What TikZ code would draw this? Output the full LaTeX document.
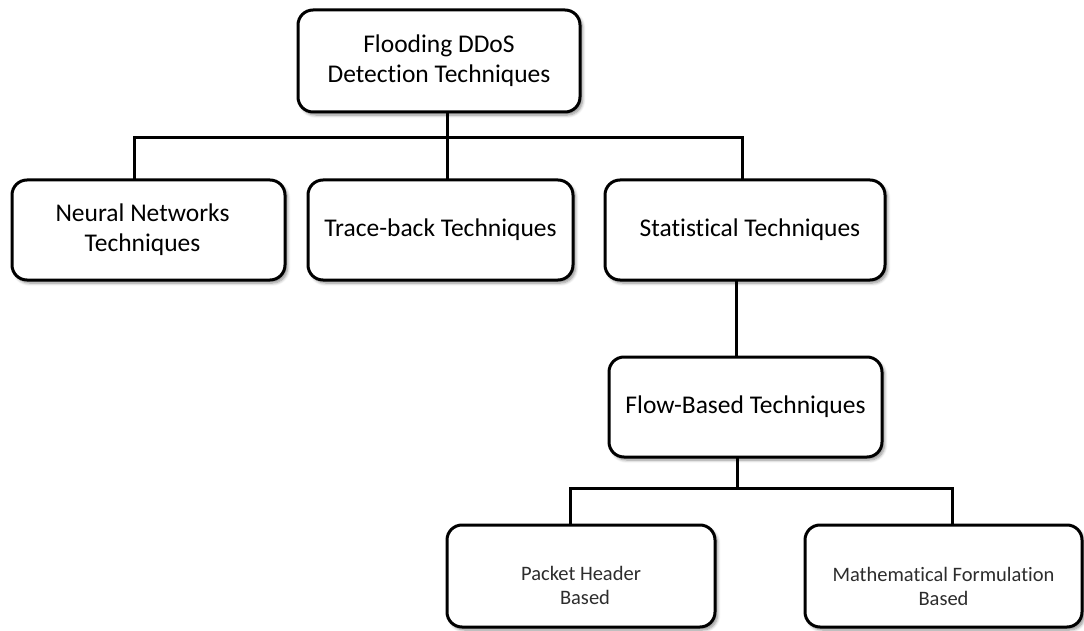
\documentclass[tikz,border=0pt]{standalone}
\usepackage{fontspec}
\setmainfont{Carlito}[Ligatures=NoCommon]
\usetikzlibrary{shadows.blur,calc}

\definecolor{subtext}{RGB}{45,45,45}

\tikzset{
  box/.style={draw=black, line width=3pt, rounded corners=15pt, fill=white,
    align=center, inner sep=0pt,
    blur shadow={shadow xshift=2.5pt, shadow yshift=-3pt, shadow opacity=45,
                 shadow blur radius=3pt, shadow blur steps=6}},
  bigtext/.style={font=\fontsize{25.5}{30}\selectfont, text=black},
  smalltext/.style={font=\fontsize{20.5}{24}\selectfont, text=subtext, align=center},
  wire/.style={draw=black, line width=3pt, line cap=rect}
}

\begin{document}
\begin{tikzpicture}[x=1pt, y=-1pt]
  \useasboundingbox (0,0) rectangle (1084,631);

  % boxes
  \node[box, bigtext, minimum width=282pt, minimum height=102pt] (root) at (439,61)
    {Flooding DDoS\\Detection Techniques};
  \node[box, bigtext, minimum width=273pt, minimum height=100pt] (neural) at (148.5,230)
    {\hspace*{-12pt}Neural Networks\\\hspace*{-12pt}Techniques};
  \node[box, bigtext, minimum width=265pt, minimum height=100pt] (trace) at (440.5,230)
    {Trace-back Techniques};
  \node[box, bigtext, minimum width=280pt, minimum height=100pt] (stat) at (745,230)
    {\hspace*{10pt}Statistical Techniques};
  \node[box, bigtext, minimum width=273pt, minimum height=100pt] (flow) at (745.5,407)
    {Flow-Based Techniques};
  \node[box, minimum width=268pt, minimum height=102pt] (packet) at (581,576) {};
  \node[box, minimum width=277pt, minimum height=102pt] (math) at (943.5,576) {};

  % labels of the two leaf boxes, set a little below centre
  \node[smalltext] (packet-label) at ($(packet.center)+(0,9)$) {Packet Header\\\hspace*{8pt}Based};
  \node[smalltext] (math-label) at ($(math.center)+(0,10)$) {Mathematical Formulation\\Based};

  % junction points
  \coordinate (j0) at (447,138);
  \coordinate (jl) at (134,138);
  \coordinate (jr) at (742,138);
  \coordinate (c1) at (736,0);
  \coordinate (j2) at (737,488);
  \coordinate (kl) at (570,488);
  \coordinate (kr) at (952,488);

  % connectors, first level
  \draw[wire] (root.south -| j0) -- (j0);
  \draw[wire] (jl) -- (jr);
  \draw[wire] (jl) -- (jl |- neural.north);
  \draw[wire] (j0) -- (j0 |- trace.north);
  \draw[wire] (jr) -- (jr |- stat.north);

  % statistical -> flow-based
  \draw[wire] (stat.south -| c1) -- (flow.north -| c1);

  % flow-based -> leaves
  \draw[wire] (flow.south -| j2) -- (j2);
  \draw[wire] (kl) -- (kr);
  \draw[wire] (kl) -- (kl |- packet.north);
  \draw[wire] (kr) -- (kr |- math.north);
\end{tikzpicture}
\end{document}
